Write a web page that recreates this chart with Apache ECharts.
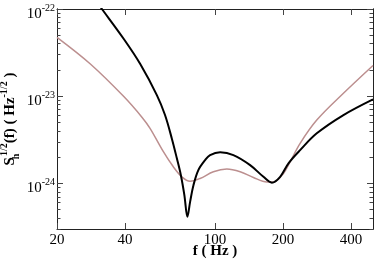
<!DOCTYPE html>
<html><head><meta charset="utf-8">
<script src="https://cdn.jsdelivr.net/npm/echarts@6/dist/echarts.min.js"></script>
<style>html,body{margin:0;padding:0;background:#fff}#c{width:374px;height:260px}</style>
</head><body><div id="c"></div>
<script>
// ---- data ----
// amplitude values are in units of 1e-24 Hz^-1/2
const ASD_UNIT_EXP = -24;
const xTickLabels = [20, 40, 100, 200, 400];
const yTickValues = [1, 10, 100];
const yMinorMantissa = [2, 3, 4, 5, 6, 7, 8, 9];
const yDecades = [0.1, 1, 10];

const pinkFreq = [20, 28.1, 39.5, 47.6, 51.6, 59.1, 65.4, 71.3, 77.6, 85.9, 98.4, 112.8, 129.2, 147.9, 169.6, 181.4, 200.8, 215, 238, 282, 370, 500];
const pinkAsd  = [47.3, 23.4, 9.9, 5.71, 4.28, 2.31, 1.55, 1.19, 1.06, 1.14, 1.36, 1.46, 1.36, 1.17, 1.04, 1.04, 1.30, 1.77, 2.88, 5.32, 10.8, 22.5];

const blackFreq = [29, 31.6, 39.5, 46.7, 55.3, 60.1, 64.4, 67.8, 70.6, 73.2, 75.5, 77.6, 80.3, 84.4, 90.4, 95.1, 105.4, 120.6, 143, 163.8, 178.5, 194.2, 211.4, 238, 282, 370, 500];
const blackAsd  = [135, 100, 45.3, 23.4, 10.3, 6.08, 3.28, 1.94, 1.25, 0.735, 0.414, 0.615, 0.955, 1.42, 1.85, 2.11, 2.27, 2.11, 1.62, 1.19, 1.02, 1.19, 1.70, 2.41, 3.75, 6.08, 9.2];

// ---- build ----
const SERIF = "'Liberation Serif','DejaVu Serif',serif";
const X_MIN = 20, X_MAX = 500, Y_MIN = 0.3, Y_MAX = 100;
const yMinorTicks = [];
yDecades.forEach(function (d) {
  yMinorMantissa.forEach(function (m) {
    const v = Number((m * d).toPrecision(3));
    if (v >= Y_MIN && v <= Y_MAX) yMinorTicks.push(v);
  });
});
function pairs(xs, ys) { return xs.map(function (x, i) { return [x, ys[i]]; }); }

const lineC = '#222';
function xAx(pos, showLabel) {
  return {
    type: 'log', logBase: 10, min: X_MIN, max: X_MAX, position: pos, gridIndex: 0,
    axisLine: { show: true, onZero: false, lineStyle: { color: lineC, width: 1 } },
    axisTick: { show: true, inside: true, length: 6, lineStyle: { color: '#444' }, customValues: xTickLabels },
    axisLabel: { show: showLabel, customValues: xTickLabels, margin: 4, fontFamily: SERIF, fontSize: 15, color: '#000' },
    splitLine: { show: false }, minorTick: { show: false }, minorSplitLine: { show: false }
  };
}
function yAx(pos, showLabel, minor) {
  return {
    type: 'log', logBase: 10, min: Y_MIN, max: Y_MAX, position: pos, gridIndex: 0,
    axisLine: { show: true, onZero: false, lineStyle: { color: lineC, width: 1 } },
    axisTick: { show: true, inside: true, length: minor ? 3.5 : 6, lineStyle: { color: '#444' }, customValues: minor ? yMinorTicks : yTickValues },
    axisLabel: {
      show: showLabel, customValues: yTickValues, margin: 2, padding: [10, 0, 0, 0],
      formatter: function (v) { const e = Math.round(Math.log10(v)) + ASD_UNIT_EXP; return '{b|10}{s|' + e + '}'; },
      rich: {
        b: { fontFamily: SERIF, fontSize: 15, color: '#000', lineHeight: 22, verticalAlign: 'middle' },
        s: { fontFamily: SERIF, fontSize: 10, color: '#000', lineHeight: 10, verticalAlign: 'top' }
      }
    },
    splitLine: { show: false }, minorTick: { show: false }, minorSplitLine: { show: false }
  };
}

const yMain = yAx('left', true, false);
yMain.name = '{m|S}{sub|h}{sup|1/2}{m|(f) ( Hz}{sup|-1/2}{m| )}';
yMain.nameLocation = 'middle';
yMain.nameGap = 36;
yMain.nameMoveOverlap = false;
yMain.nameTextStyle = {
  fontFamily: SERIF, fontWeight: 'bold', fontSize: 15, color: '#000',
  rich: {
    m: { fontFamily: SERIF, fontWeight: 'bold', fontSize: 15, color: '#000', lineHeight: 22, verticalAlign: 'middle' },
    sup: { fontFamily: SERIF, fontWeight: 'bold', fontSize: 10, color: '#000', lineHeight: 10, verticalAlign: 'top' },
    sub: { fontFamily: SERIF, fontWeight: 'bold', fontSize: 10, color: '#000', lineHeight: 10, verticalAlign: 'bottom', width: 1 }
  }
};
const xMain = xAx('bottom', true);
xMain.name = 'f ( Hz )';
xMain.nameLocation = 'middle';
xMain.nameGap = 15;
xMain.nameMoveOverlap = false;
xMain.nameTextStyle = { fontFamily: SERIF, fontWeight: 'bold', fontSize: 15, color: '#000' };

const chart = echarts.init(document.getElementById('c'), null, { renderer: 'canvas' });
chart.setOption({
  animation: false,
  backgroundColor: '#fff',
  textStyle: { fontFamily: SERIF },
  grid: { left: 57, right: 1, top: 9, bottom: 31, containLabel: false, outerBoundsMode: 'none' },
  xAxis: [xMain, xAx('top', false)],
  yAxis: [yMain, yAx('right', false, false), yAx('left', false, true), yAx('right', false, true)],
  series: [
    { type: 'line', name: 'pink', xAxisIndex: 0, yAxisIndex: 0, data: pairs(pinkFreq, pinkAsd),
      showSymbol: false, smooth: 0.35, clip: true, lineStyle: { color: '#bc8f8f', width: 1.5 } },
    { type: 'line', name: 'black', xAxisIndex: 0, yAxisIndex: 0, data: pairs(blackFreq, blackAsd),
      showSymbol: false, smooth: 0.35, clip: true, lineStyle: { color: '#000', width: 2 } }
  ]
});
</script></body></html>
